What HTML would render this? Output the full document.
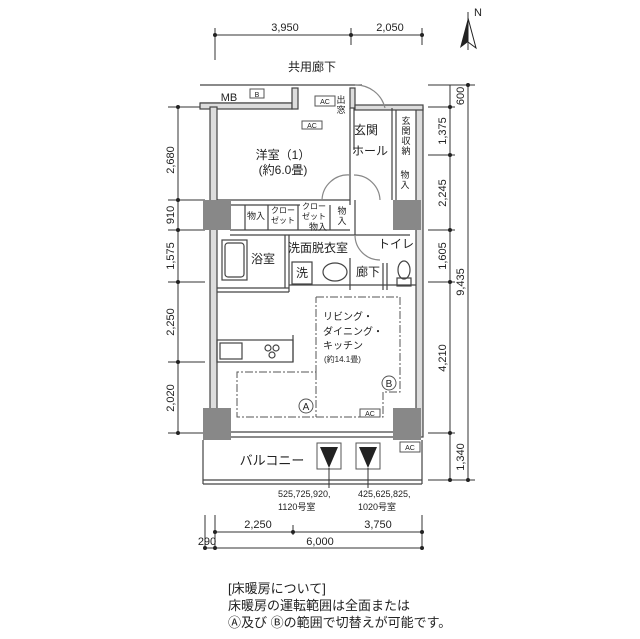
<!DOCTYPE html>
<html><head><meta charset="utf-8"><style>
html,body{margin:0;padding:0;background:#fff}
svg{display:block}
text{font-family:"Liberation Sans","Noto Sans CJK JP",sans-serif;fill:#222}
</style></head><body>
<svg width="640" height="639" viewBox="0 0 640 639" xmlns="http://www.w3.org/2000/svg">
<g stroke="#333" stroke-width="1" fill="none">
<!-- top dims -->
<line x1="215" y1="35" x2="422" y2="35"/>
<line x1="215" y1="28" x2="215" y2="60"/><line x1="351" y1="28" x2="351" y2="45"/><line x1="422" y1="28" x2="422" y2="45"/>
<!-- left dims -->
<line x1="178" y1="107" x2="178" y2="433"/>
<line x1="168" y1="107" x2="205" y2="107"/><line x1="168" y1="200" x2="205" y2="200"/><line x1="168" y1="230" x2="205" y2="230"/><line x1="168" y1="282" x2="205" y2="282"/><line x1="168" y1="362" x2="205" y2="362"/><line x1="168" y1="433" x2="205" y2="433"/>
<!-- right dims -->
<line x1="450" y1="85" x2="450" y2="480"/><line x1="468" y1="85" x2="468" y2="480"/>
<line x1="428" y1="85" x2="475" y2="85"/><line x1="428" y1="107" x2="455" y2="107"/><line x1="428" y1="155" x2="455" y2="155"/><line x1="428" y1="230" x2="455" y2="230"/><line x1="428" y1="282" x2="455" y2="282"/><line x1="428" y1="433" x2="455" y2="433"/><line x1="428" y1="480" x2="475" y2="480"/>
<!-- bottom dims -->
<line x1="215" y1="532" x2="422" y2="532"/><line x1="205" y1="548" x2="422" y2="548"/>
<line x1="205" y1="515" x2="205" y2="550"/><line x1="215" y1="515" x2="215" y2="550"/><line x1="293" y1="525" x2="293" y2="535"/><line x1="422" y1="515" x2="422" y2="550"/>
</g>
<g fill="#222">
<circle cx="215" cy="35" r="2"/><circle cx="351" cy="35" r="2"/><circle cx="422" cy="35" r="2"/>
<circle cx="178" cy="107" r="2"/><circle cx="178" cy="200" r="2"/><circle cx="178" cy="230" r="2"/><circle cx="178" cy="282" r="2"/><circle cx="178" cy="362" r="2"/><circle cx="178" cy="433" r="2"/>
<circle cx="450" cy="107" r="2"/><circle cx="450" cy="155" r="2"/><circle cx="450" cy="230" r="2"/><circle cx="450" cy="282" r="2"/><circle cx="450" cy="433" r="2"/><circle cx="450" cy="480" r="2"/><circle cx="468" cy="85" r="2"/><circle cx="468" cy="480" r="2"/>
<circle cx="215" cy="532" r="2"/><circle cx="293" cy="532" r="2"/><circle cx="422" cy="532" r="2"/><circle cx="205" cy="548" r="2"/><circle cx="215" cy="548" r="2"/><circle cx="422" cy="548" r="2"/>
</g>
<g font-size="11" text-anchor="middle">
<text x="285" y="31">3,950</text><text x="390" y="31">2,050</text>
<text x="258" y="528">2,250</text><text x="378" y="528">3,750</text>
<text x="207" y="545">290</text><text x="320" y="545">6,000</text>
<text transform="translate(174,160) rotate(-90)">2,680</text>
<text transform="translate(174,215) rotate(-90)">910</text>
<text transform="translate(174,256) rotate(-90)">1,575</text>
<text transform="translate(174,322) rotate(-90)">2,250</text>
<text transform="translate(174,398) rotate(-90)">2,020</text>
<text transform="translate(464,96) rotate(-90)">600</text>
<text transform="translate(446,131) rotate(-90)">1,375</text>
<text transform="translate(446,193) rotate(-90)">2,245</text>
<text transform="translate(446,256) rotate(-90)">1,605</text>
<text transform="translate(446,358) rotate(-90)">4,210</text>
<text transform="translate(464,282) rotate(-90)">9,435</text>
<text transform="translate(464,457) rotate(-90)">1,340</text>
</g>
<!-- north -->
<g><line x1="468" y1="12" x2="468" y2="50" stroke="#333"/><polygon points="468,18 460,48 468,42" fill="#222"/><polygon points="468,18 476,48 468,42" fill="#fff" stroke="#222"/><text x="474" y="16" font-size="11">N</text></g>
<!-- building -->
<g stroke="#444" fill="none" stroke-width="1.2">
<line x1="200" y1="85" x2="292" y2="85"/><line x1="200" y1="103" x2="292" y2="103"/>
<line x1="292" y1="85" x2="362" y2="85"/>
<rect x="200" y="103" width="92" height="6" fill="#ddd"/>
<rect x="292" y="88" width="6" height="21" fill="#ddd"/>
<rect x="210" y="107" width="7" height="330" fill="#ddd"/>
<rect x="416" y="107" width="7" height="330" fill="#ddd"/>
<rect x="350" y="88" width="5" height="20" fill="#ddd"/>
<rect x="355" y="105" width="68" height="5" fill="#ddd"/>
<line x1="350" y1="108" x2="350" y2="205"/><line x1="354" y1="108" x2="354" y2="150"/>
<line x1="392" y1="108" x2="392" y2="200"/><line x1="396" y1="110" x2="396" y2="200"/>
<line x1="217" y1="200" x2="350" y2="200"/><line x1="217" y1="205" x2="300" y2="205"/>
<line x1="230" y1="230" x2="350" y2="230"/><line x1="230" y1="235" x2="410" y2="235"/>
<line x1="245" y1="205" x2="245" y2="230"/><line x1="268" y1="205" x2="268" y2="230"/><line x1="298" y1="205" x2="298" y2="230"/><line x1="330" y1="205" x2="330" y2="230"/>
<line x1="355" y1="200" x2="355" y2="235"/>
<line x1="289" y1="235" x2="289" y2="292"/><line x1="285" y1="235" x2="285" y2="288"/>
<line x1="217" y1="288" x2="289" y2="288"/><line x1="217" y1="292" x2="289" y2="292"/>
<line x1="350" y1="258" x2="350" y2="290"/><line x1="383" y1="263" x2="383" y2="290"/><line x1="387" y1="263" x2="387" y2="290"/>
<line x1="289" y1="285" x2="416" y2="285"/>
<rect x="222" y="240" width="25" height="40"/><rect x="225" y="243" width="19" height="34" rx="3"/>
<rect x="292" y="262" width="20" height="22"/>
<ellipse cx="335" cy="272" rx="12" ry="9"/>
<ellipse cx="404" cy="270" rx="6" ry="9"/>
<rect x="397" y="278" width="14" height="8"/>
<rect x="217" y="340" width="76" height="22"/><rect x="220" y="343" width="22" height="16"/>
<circle cx="268" cy="348" r="3"/><circle cx="276" cy="348" r="3"/><circle cx="272" cy="355" r="3"/>
<line x1="293" y1="335" x2="293" y2="362"/>
<line x1="217" y1="437" x2="416" y2="437"/><line x1="217" y1="432" x2="416" y2="432"/>
<line x1="203" y1="480" x2="422" y2="480"/><line x1="203" y1="484" x2="422" y2="484"/>
<line x1="203" y1="440" x2="203" y2="484"/><line x1="422" y1="440" x2="422" y2="484"/>
<path d="M355 85 A30 30 0 0 1 385 108" stroke="#888"/>
<path d="M322 200 A26 26 0 0 1 350 175" stroke="#888"/>
<path d="M354 175 A26 26 0 0 1 380 200" stroke="#888"/>
<path d="M355 235 A25 25 0 0 0 380 260" stroke="#888"/>
</g>
<g fill="#888">
<rect x="203" y="200" width="28" height="30"/><rect x="393" y="200" width="28" height="30"/>
<rect x="203" y="408" width="28" height="32"/><rect x="393" y="408" width="28" height="32"/>
</g>
<!-- dashed heating -->
<g stroke="#555" fill="none" stroke-dasharray="8,2,2,2">
<polyline points="316,297 400,297 400,392 383,392 383,417 237,417 237,372 316,372 316,297"/>
<line x1="316" y1="372" x2="316" y2="417"/>
</g>
<g stroke="#555" fill="#fff" font-size="8">
<rect x="302" y="121" width="20" height="8"/><rect x="315" y="96" width="20" height="10"/><rect x="360" y="409" width="20" height="8"/><rect x="400" y="442" width="20" height="10"/><rect x="250" y="89" width="14" height="9"/>
<circle cx="306" cy="406" r="7"/><circle cx="389" cy="383" r="7"/>
<rect x="317" y="443" width="24" height="26"/><rect x="356" y="443" width="24" height="26"/>
</g>
<g fill="#222"><polygon points="320,447 338,447 329,468"/><polygon points="359,447 377,447 368,468"/></g>
<line x1="329" y1="468" x2="329" y2="488" stroke="#333"/><line x1="368" y1="468" x2="368" y2="488" stroke="#333"/>
<g font-size="7" text-anchor="middle">
<text x="312" y="128">AC</text><text x="325" y="104">AC</text><text x="370" y="416">AC</text><text x="410" y="450">AC</text><text x="257" y="97">B</text>
</g>
<g font-size="10" text-anchor="middle"><text x="306" y="410">A</text><text x="389" y="387">B</text></g>
<g font-size="12" text-anchor="middle">
<text x="312" y="71">共用廊下</text>
<text x="229" y="101" font-size="11">MB</text>
<text x="366" y="134">玄関</text><text x="370" y="155">ホール</text>
<text x="283" y="159">洋室（1）</text><text x="283" y="174">(約6.0畳)</text>
<text x="263" y="263">浴室</text><text x="318" y="252">洗面脱衣室</text><text x="396" y="248">トイレ</text>
<text x="302" y="277">洗</text><text x="368" y="276">廊下</text>
<text x="272" y="465" font-size="13">バルコニー</text>
</g>
<g font-size="9" text-anchor="middle">
<text x="341" y="103">出</text><text x="341" y="113">窓</text>
<text x="406" y="124">玄</text><text x="406" y="134">関</text><text x="406" y="144">収</text><text x="406" y="154">納</text>
<text x="405" y="178">物</text><text x="405" y="188">入</text>
<text x="256" y="219">物入</text>
<text x="283" y="213" font-size="8">クロー</text><text x="283" y="223" font-size="8">ゼット</text>
<text x="314" y="209" font-size="8">クロー</text><text x="314" y="219" font-size="8">ゼット</text>
<text x="342" y="214">物</text><text x="342" y="224">入</text>
<text x="318" y="230">物入</text>
</g>
<g font-size="10">
<text x="323" y="320">リビング・</text><text x="323" y="335">ダイニング・</text><text x="323" y="349">キッチン</text>
<text x="324" y="362" font-size="8">(約14.1畳)</text>
<text x="278" y="497" font-size="9">525,725,920,</text><text x="278" y="510" font-size="9">1120号室</text>
<text x="358" y="497" font-size="9">425,625,825,</text><text x="358" y="510" font-size="9">1020号室</text>
</g>
<g font-size="13">
<text x="228" y="593">[床暖房について]</text>
<text x="228" y="610">床暖房の運転範囲は全面または</text>
<text x="228" y="627">Ⓐ及び Ⓑの範囲で切替えが可能です。</text>
</g>
</svg>
</body></html>
